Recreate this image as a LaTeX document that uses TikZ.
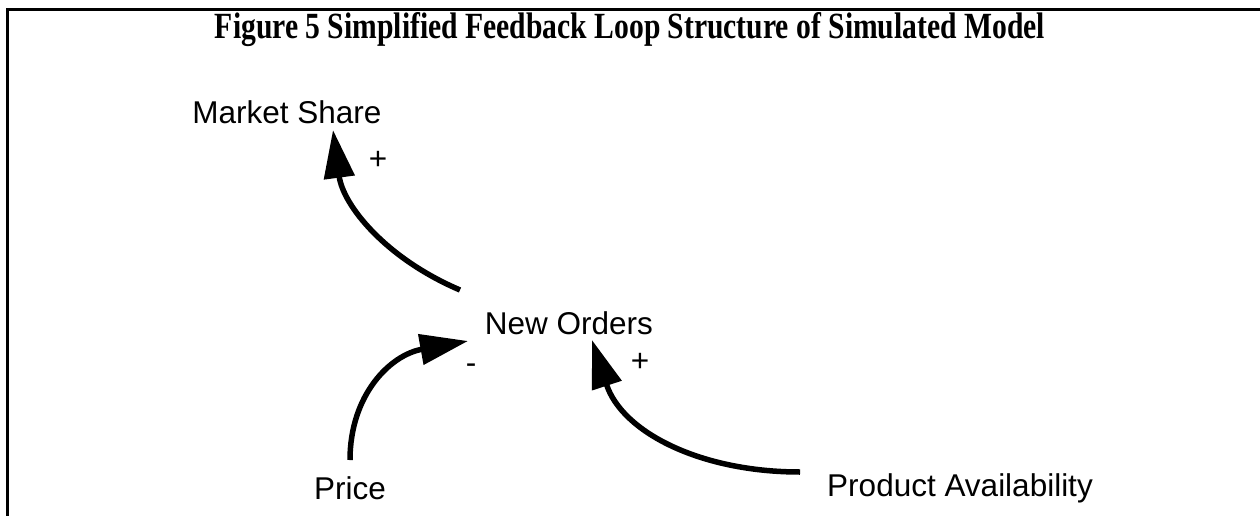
\documentclass[tikz,border=0pt]{standalone}
\usepackage{fontspec}
\usepackage{graphicx}
\setmainfont{Liberation Sans}
\newfontfamily\titlefont{Liberation Serif}
\usetikzlibrary{arrows.meta}
\tikzset{
  lbl/.style={font=\fontsize{31.5}{36}\selectfont, inner sep=0pt, anchor=center},
  sign/.style={font=\fontsize{31.5}{36}\selectfont, inner sep=0pt},
  link/.style={line width=5.5pt, -{Triangle[length=48pt,width=30pt]}},
  frame/.style={line width=3pt}
}
\begin{document}
\begin{tikzpicture}[x=1pt,y=-1pt]
\useasboundingbox (0,0) rectangle (1260,516);
\draw[frame] (7,516) -- (7,9.5) -- (1260,9.5);
\node[inner sep=0pt, anchor=base] (title) at (630,39) {\resizebox{830pt}{26pt}{\titlefont\bfseries\fontsize{28}{32}\selectfont Figure 5 Simplified Feedback Loop Structure of Simulated Model}};
\node[lbl] (ms) at (287,112) {Market Share};
\node[lbl] (no) at (569,323) {New Orders};
\node[lbl] (price) at (350,488) {Price};
\node[lbl] (pa) at (960,488) {Product Availability};
\coordinate (s1) at (460,290);
\coordinate (t1) at (333,130);
\coordinate (s2) at (350,460);
\coordinate (t2) at (468,341);
\coordinate (s3) at (800,472);
\coordinate (t3) at (592,340);
\draw[link] (s1) .. controls (385,258) and (343,205) .. (t1);
\draw[link] (s2) .. controls (350,395) and (390,355) .. (t2);
\draw[link] (s3) .. controls (700,472) and (622,432) .. (t3);
\node[sign] (p1) at (378,160) {+};
\node[sign] (m2) at (471,369) {-};
\node[sign] (p3) at (640,362) {+};
\end{tikzpicture}
\end{document}
